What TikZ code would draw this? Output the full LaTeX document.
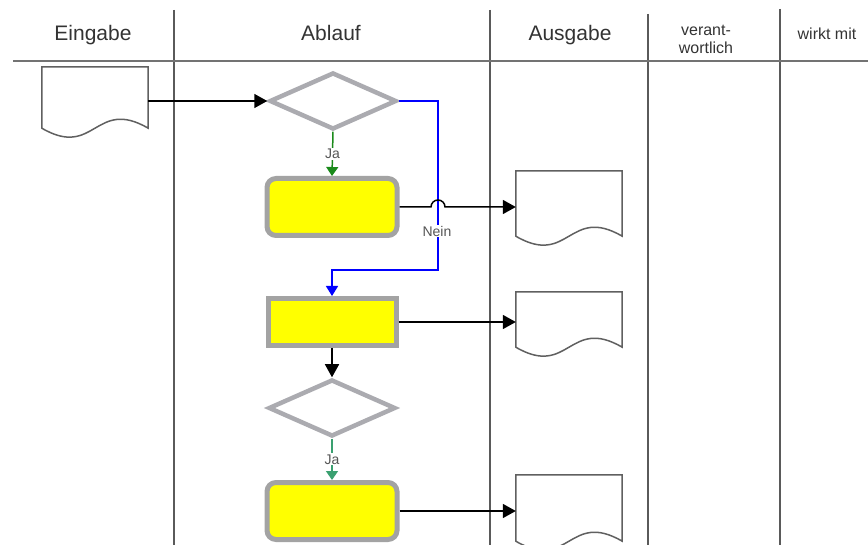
\documentclass[tikz,border=0pt]{standalone}
\usepackage{fontspec}
\setmainfont{Liberation Sans}
\usetikzlibrary{shapes.geometric,arrows.meta,calc}
\definecolor{boxgray}{HTML}{A3A3A3}
\definecolor{diagray}{HTML}{ABABB0}
\definecolor{docgray}{HTML}{606060}
\definecolor{colline}{HTML}{5A5A5A}
\definecolor{hdrtext}{HTML}{333333}
\definecolor{lbltext}{HTML}{555555}
\definecolor{jagreen}{HTML}{1A8A1A}
\definecolor{jateal}{HTML}{3AA070}
\definecolor{neinblue}{HTML}{0000FF}
\definecolor{taskyellow}{HTML}{FFFF00}
\tikzset{
  hdr/.style={text=hdrtext,font=\fontsize{21}{25}\selectfont,inner sep=0pt,anchor=base},
  hdrsmall/.style={text=hdrtext,font=\fontsize{16}{18}\selectfont,align=center,inner sep=0pt},
  colrule/.style={draw=colline,line width=1.3pt},
  hdrrule/.style={draw=colline!85,line width=2.2pt},
  decision/.style={diamond,draw=diagray,line width=4.5pt,fill=white,minimum width=127pt,minimum height=57pt,inner sep=0pt,aspect=2},
  taskround/.style={rectangle,rounded corners=9pt,draw=boxgray,line width=5pt,fill=taskyellow,minimum width=130pt,minimum height=57pt,inner sep=0pt},
  tasksharp/.style={rectangle,draw=boxgray,line width=5pt,fill=taskyellow,minimum width=128pt,minimum height=47pt,inner sep=0pt},
  docbox/.style={rectangle,draw=none,inner sep=0pt,minimum width=106pt},
  docline/.style={draw=docgray,line width=1.5pt,fill=white},
  arr/.style={draw=black,line width=1.5pt,-{Triangle[length=13pt,width=14pt]}},
  jaarr/.style={line width=1.5pt,-{Triangle[length=9pt,width=12pt]}},
  lbl/.style={text=lbltext,font=\fontsize{14}{16}\selectfont,fill=white,inner sep=1pt},
}
\newcommand\docshape[5]{%
  \node[docbox,minimum height={(#5-#3)*1pt}] (#1) at ({(#2+#4)/2},{(#3+#5)/2}) {};
  \draw[docline] (#1.north west) -- (#1.north east) -- (#1.south east)
    .. controls ($(#1.south)+(0,-31)$) and ($(#1.south)+(0,31)$) .. (#1.south west) -- cycle;
}
\begin{document}
\begin{tikzpicture}[x=1pt,y=-1pt]
\useasboundingbox (0,0) rectangle (868,545);
% header
\node[hdr] (hEin) at (93,41) {Eingabe};
\node[hdr] (hAbl) at (331,41) {Ablauf};
\node[hdr] (hAus) at (570,41) {Ausgabe};
\node[hdrsmall] (hVer) at (706,39) {verant-\\wortlich};
\node[hdrsmall] (hWir) at (827,34) {wirkt mit};
% column rules
\coordinate (c1t) at (174,10); \coordinate (c1b) at (174,545);
\coordinate (c2t) at (490,10); \coordinate (c2b) at (490,545);
\coordinate (c3t) at (648,14); \coordinate (c3b) at (648,545);
\coordinate (c4t) at (780,9);  \coordinate (c4b) at (780,545);
\draw[colrule] (c1t) -- (c1b);
\draw[colrule] (c2t) -- (c2b);
\draw[colrule] (c3t) -- (c3b);
\draw[colrule] (c4t) -- (c4b);
\coordinate (hl) at (13,61); \coordinate (hr) at (868,61);
\draw[hdrrule] (hl) -- (hr);
% documents
\docshape{d1}{42}{67}{148}{128}
\docshape{d2}{516}{171}{622}{236}
\docshape{d3}{516}{292}{622}{347}
\docshape{d4}{516}{475}{622}{541}
% flow nodes
\node[decision] (q1) at (333,101) {};
\node[taskround] (b1) at (332,207) {};
\node[tasksharp] (b2) at (332,322) {};
\node[decision] (q2) at (332,408) {};
\node[taskround] (b3) at (332,511) {};
% connectors
\draw[arr] (d1.east |- q1.west) -- (q1.west);
\coordinate (j1) at (438,270);
\draw[line width=1.5pt,draw=neinblue,-{Triangle[length=10pt,width=12pt]}] (q1.east) -| (j1) -| (b2.north);
\draw[arr] (b1.east) -- ($(b1.east -| j1)+(-7,0)$) arc[start angle=180,end angle=0,radius=7pt] -- (b1.east -| d2.west);
\node[lbl] (nein) at (437,231) {Nein};
\draw[jaarr,draw=jagreen,fill=jagreen] (q1.south) -- (b1.north) node[lbl,pos=0.5] (ja1) {Ja};
\draw[arr] (b2.east) -- (b2.east -| d3.west);
\draw[arr] (b2.south) -- (q2.north);
\draw[jaarr,draw=jateal,fill=jateal] (q2.south) -- (b3.north) node[lbl,pos=0.5] (ja2) {Ja};
\draw[arr] (b3.east) -- (b3.east -| d4.west);
\end{tikzpicture}
\end{document}
